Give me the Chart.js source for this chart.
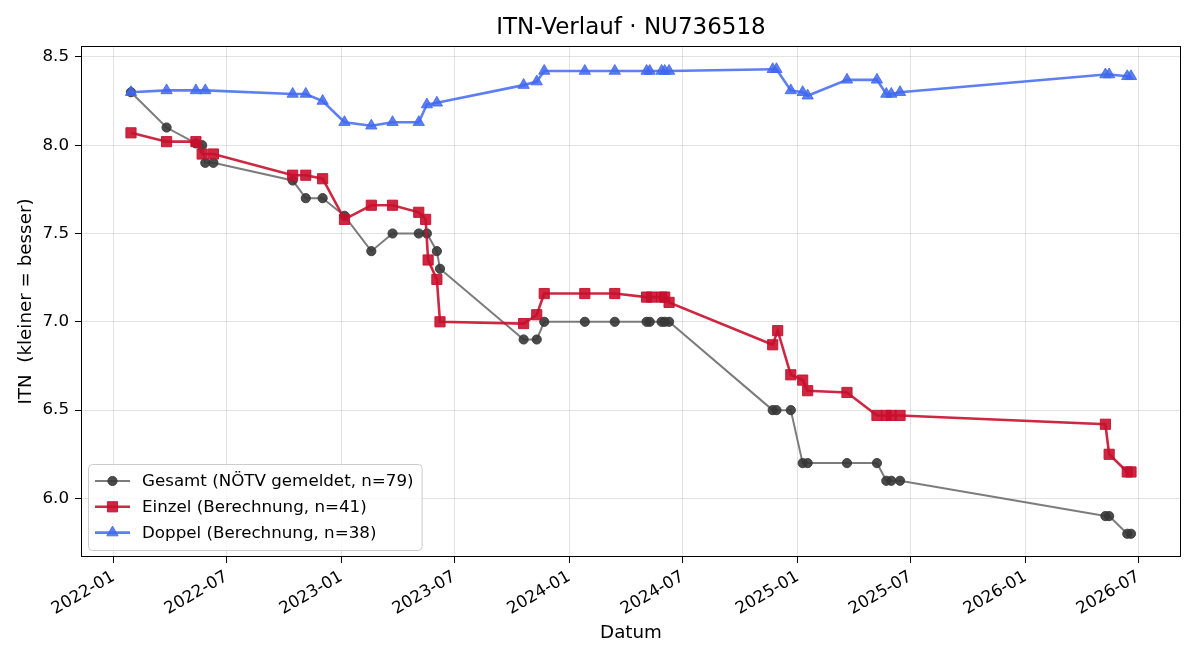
<!DOCTYPE html>
<html>
<head>
<meta charset="utf-8">
<title>ITN-Verlauf</title>
<script src="https://cdn.jsdelivr.net/npm/chart.js@4.4.1/dist/chart.umd.min.js"></script>
<style>
  html, body { margin: 0; padding: 0; background: #fff; }
  #wrap { width: 1200px; height: 660px; }
</style>
</head>
<body>
<div id="wrap"><canvas id="itnChart" width="1200" height="660"></canvas></div>
<script>
// Messdaten (null = an diesem Datum kein Wert in der Reihe)
const dates = [
    '2022-01-29', '2022-03-27', '2022-05-13', '2022-05-23', '2022-05-28', '2022-06-10',
    '2022-10-15', '2022-11-05', '2022-12-02', '2023-01-06', '2023-02-18', '2023-03-24',
    '2023-05-05', '2023-05-16', '2023-05-18', '2023-05-20', '2023-06-03', '2023-06-08',
    '2023-10-20', '2023-11-10', '2023-11-22', '2024-01-26', '2024-03-14', '2024-05-04',
    '2024-05-09', '2024-05-12', '2024-05-28', '2024-06-02', '2024-06-09', '2024-11-22',
    '2024-11-28', '2024-11-30', '2024-12-21', '2025-01-09', '2025-01-17', '2025-03-21',
    '2025-05-08', '2025-05-23', '2025-05-31', '2025-06-14', '2026-05-09', '2026-05-15',
    '2026-06-13', '2026-06-19'
];
const gesamt = [
    8.30, 8.10, 8.01, 8.00, 7.90, 7.90,
    7.80, 7.70, 7.70, 7.60, 7.40, 7.50,
    7.50, null, 7.50, null, 7.40, 7.30,
    6.90, 6.90, 7.00, 7.00, 7.00, 7.00,
    7.00, null, 7.00, 7.00, 7.00, 6.50,
    6.50, null, 6.50, 6.20, 6.20, 6.20,
    6.20, 6.10, 6.10, 6.10, 5.90, 5.90,
    5.80, 5.80
];
const einzel = [
    8.07, 8.02, 8.02, 7.95, null, 7.95,
    7.83, 7.83, 7.81, 7.58, 7.66, 7.66,
    7.62, 7.58, null, 7.35, 7.24, 7.00,
    6.99, 7.04, 7.16, 7.16, 7.16, 7.14,
    null, 7.14, 7.14, 7.14, 7.11, 6.87,
    null, 6.95, 6.70, 6.67, 6.61, 6.60,
    6.47, 6.47, 6.47, 6.47, 6.42, 6.25,
    6.15, 6.15
];
const doppel = [
    8.30, 8.31, 8.31, null, 8.31, null,
    8.29, 8.29, 8.25, 8.13, 8.11, 8.13,
    8.13, null, 8.23, null, 8.24, null,
    8.34, 8.36, 8.42, 8.42, 8.42, 8.42,
    8.42, null, 8.42, 8.42, 8.42, 8.43,
    8.43, null, 8.31, 8.30, 8.28, 8.37,
    8.37, 8.29, 8.29, 8.30, 8.40, 8.40,
    8.39, 8.39
];
const seriesNames = [
    'Gesamt (NÖTV gemeldet, n=79)',
    'Einzel (Berechnung, n=41)',
    'Doppel (Berechnung, n=38)'
];
const tickLabels = ['2022-01', '2022-07', '2023-01', '2023-07', '2024-01', '2024-07', '2025-01', '2025-07', '2026-01', '2026-07'];
const yTicks = [6.0, 6.5, 7.0, 7.5, 8.0, 8.5];

// Tage seit 2022-01-01 als x-Wert (kein Datumsadapter vorhanden)
const origin = Date.parse('2022-01-01');
function dayOf(s) {
    return (Date.parse(s) - origin) / 86400000;
}
function toPoints(vals) {
    return dates.map((d, i) => ({ x: dayOf(d), y: vals[i] })).filter(p => p.y !== null);
}

// Achsenbereich wie matplotlib: 5 % Rand um die Daten
const allX = dates.map(dayOf);
const allY = gesamt.concat(einzel, doppel).filter(v => v !== null);
const xLo = Math.min(...allX), xHi = Math.max(...allX);
const yLo = Math.min(...allY), yHi = Math.max(...allY);
const xPad = (xHi - xLo) * 0.05, yPad = (yHi - yLo) * 0.05;

const FONT = "'DejaVu Sans', sans-serif";
Chart.defaults.font.family = FONT;
Chart.defaults.color = '#000';

// Marker wie in Chart.js zeichnen (für die Legende)
function drawMarker(ctx, style, x, y, r) {
    ctx.beginPath();
    if (style === 'circle') {
        ctx.arc(x, y, r, 0, Math.PI * 2);
    } else if (style === 'rect') {
        const s = Math.SQRT1_2 * r;
        ctx.rect(x - s, y - s, 2 * s, 2 * s);
    } else if (style === 'triangle') {
        let rad = 0;
        for (let k = 0; k < 3; k++) {
            const px = x + Math.sin(rad) * r, py = y - Math.cos(rad) * r;
            k === 0 ? ctx.moveTo(px, py) : ctx.lineTo(px, py);
            rad += Math.PI * 2 / 3;
        }
    }
    ctx.closePath();
    ctx.fill();
    ctx.stroke();
}

// Rahmen + Legende unten links im Plotbereich
const framePlugin = {
    id: 'frameAndLegend',
    afterDraw(chart) {
        const ctx = chart.ctx;
        const a = chart.chartArea;
        ctx.save();
        ctx.strokeStyle = '#000';
        ctx.lineWidth = 1;
        ctx.strokeRect(Math.round(a.left) + 0.5, Math.round(a.top) + 0.5,
            Math.round(a.right - a.left) - 1, Math.round(a.bottom - a.top) - 1);

        ctx.font = '16.7px ' + FONT;
        const textW = Math.max(...seriesNames.map(t => ctx.measureText(t).width));
        const boxX = a.left + 7, boxH = 86;
        const boxY = a.bottom - 7 - boxH;
        const boxW = 54 + textW + 8;
        ctx.beginPath();
        ctx.roundRect(boxX + 0.5, boxY + 0.5, boxW, boxH, 4);
        ctx.fillStyle = 'rgba(255,255,255,0.8)';
        ctx.fill();
        ctx.strokeStyle = '#cccccc';
        ctx.stroke();

        chart.data.datasets.forEach((ds, i) => {
            const cy = boxY + 17 + i * 25.8;
            ctx.strokeStyle = ds.borderColor;
            ctx.lineWidth = ds.borderWidth;
            ctx.beginPath();
            ctx.moveTo(boxX + 7, cy);
            ctx.lineTo(boxX + 42, cy);
            ctx.stroke();
            ctx.fillStyle = ds.pointBackgroundColor;
            ctx.strokeStyle = ds.pointBorderColor;
            ctx.lineWidth = 1;
            drawMarker(ctx, ds.pointStyle, boxX + 24.5, cy, ds.pointRadius);
            ctx.fillStyle = '#000';
            ctx.textBaseline = 'middle';
            ctx.textAlign = 'left';
            ctx.fillText(seriesNames[i], boxX + 54, cy + 1);
        });
        ctx.restore();
    }
};

const grey = 'rgba(55,55,55,0.9)';
const red = 'rgba(200,16,46,0.9)';
const blue = 'rgba(65,105,240,0.85)';

new Chart(document.getElementById('itnChart'), {
    type: 'line',
    data: {
        datasets: [{
            label: seriesNames[0],
            data: toPoints(gesamt),
            borderColor: 'rgba(110,110,110,0.9)',
            borderWidth: 2,
            pointStyle: 'circle',
            pointRadius: 4.6,
            pointBackgroundColor: grey,
            pointBorderColor: grey,
            pointBorderWidth: 1,
            order: 3
        }, {
            label: seriesNames[1],
            data: toPoints(einzel),
            borderColor: red,
            borderWidth: 2.6,
            pointStyle: 'rect',
            pointRadius: 7.2,
            pointBackgroundColor: red,
            pointBorderColor: red,
            pointBorderWidth: 1,
            order: 2
        }, {
            label: seriesNames[2],
            data: toPoints(doppel),
            borderColor: blue,
            borderWidth: 2.6,
            pointStyle: 'triangle',
            pointRadius: 6.5,
            pointBackgroundColor: blue,
            pointBorderColor: blue,
            pointBorderWidth: 1,
            order: 1
        }]
    },
    options: {
        responsive: false,
        animation: false,
        devicePixelRatio: 1,
        layout: { padding: { left: 0, right: 19, top: 0, bottom: 0 } },
        elements: { line: { tension: 0 } },
        plugins: {
            legend: { display: false },
            tooltip: { enabled: false },
            title: {
                display: true,
                text: 'ITN-Verlauf · NU736518',
                fullSize: false,
                font: { size: 23, weight: 'normal', lineHeight: 1.2 },
                color: '#000',
                padding: { top: 14.2, bottom: 4.2 }
            }
        },
        scales: {
            x: {
                type: 'linear',
                min: xLo - xPad,
                max: xHi + xPad,
                afterBuildTicks: s => { s.ticks = tickLabels.map(l => ({ value: dayOf(l + '-01') })); },
                afterFit: s => { s.height = 103; s.paddingLeft = 0; s.paddingRight = 0; },
                ticks: {
                    autoSkip: false,
                    minRotation: 30,
                    maxRotation: 30,
                    padding: 4,
                    font: { size: 16.7 },
                    callback: (v, i) => tickLabels[i]
                },
                grid: { color: 'rgba(0,0,0,0.11)', tickColor: '#000', tickLength: 6, lineWidth: 1 },
                border: { display: false },
                title: {
                    display: true,
                    text: 'Datum',
                    font: { size: 18.3, lineHeight: 1.2 },
                    padding: { top: 0, bottom: 16 }
                }
            },
            y: {
                min: yLo - yPad,
                max: yHi + yPad,
                afterBuildTicks: s => { s.ticks = yTicks.map(v => ({ value: v })); },
                afterFit: s => { s.width = 81; s.paddingTop = 0; s.paddingBottom = 0; },
                ticks: {
                    padding: 6,
                    font: { size: 16.7 },
                    callback: v => v.toFixed(1)
                },
                grid: { color: 'rgba(0,0,0,0.11)', tickColor: '#000', tickLength: 6, lineWidth: 1 },
                border: { display: false },
                title: {
                    display: true,
                    text: 'ITN  (kleiner = besser)',
                    font: { size: 18.3, lineHeight: 1.2 },
                    padding: { top: 15, bottom: 0 }
                }
            }
        }
    },
    plugins: [framePlugin]
});
</script>
</body>
</html>
